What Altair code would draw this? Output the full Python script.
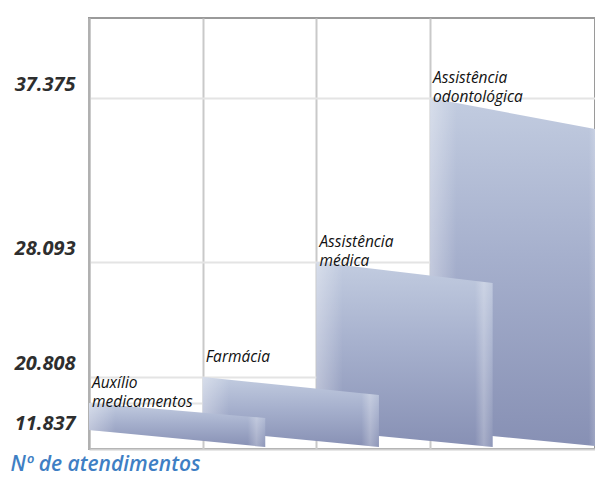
import altair as alt
import pandas as pd

# ---- data ----
categories = ["Auxílio\nmedicamentos", "Farmácia", "Assistência\nmédica", "Assistência\nodontológica"]
values = [11837, 20808, 28093, 37375]      # front (left) top of each slab
top_end = [7980, 14600, 26760, 35500]      # far (right) top of each slab, read against the axis
base_start = [4890, 4890, 4890, 4890]      # slab bottom at left
base_end = [510, 510, 510, 510]            # slab bottom at right
tick_values = [11837, 20808, 28093, 37375]
column_ticks = [0, 1, 2, 3]
axis_title = "Nº de atendimentos"
y_top = 41900

SPAN = 1.55
W, H = 506, 431

rows = []
for i, c in enumerate(categories):
    rows.append(dict(idx=i, cat=c, x=i, top=values[i], bottom=base_start[i]))
    rows.append(dict(idx=i, cat=c, x=i + SPAN, top=top_end[i], bottom=base_end[i]))
df = pd.DataFrame(rows)
lab = pd.DataFrame(dict(idx=list(range(4)), cat=categories, value=values))

xs = alt.Scale(domain=[0, 4.45], nice=False, zero=False)
ys = alt.Scale(domain=[0, 11837, 20808, 28093, 37375, y_top],
               range=[431, 385, 359, 244, 80, 0], nice=False, zero=False)

x_axis = alt.Axis(values=column_ticks, grid=True, gridColor="#c9c9c9", gridWidth=2,
                  labels=False, ticks=False, domain=True, domainColor="#cfcfcf", domainWidth=2,
                  title=axis_title, titleFont="Open Sans", titleFontSize=21, titleFontStyle="italic",
                  titleFontWeight=600, titleColor="#3f7fc4", titleAlign="left",
                  titleBaseline="alphabetic", titleX=-79, titleY=21, titleAnchor="start")
y_axis = alt.Axis(values=tick_values, grid=True, gridColor="#e4e4e4", gridWidth=2,
                  ticks=False, domain=True, domainColor="#b0b0b0", domainWidth=2,
                  labelExpr="replace(format(datum.value, ','), ',', '.')",
                  labelFont="Open Sans", labelFontSize=20, labelFontStyle="italic",
                  labelFontWeight="bold", labelColor="#2e2e2e", labelPadding=14,
                  labelBaseline="middle",
                  labelOffset={"condition": {"test": "datum.value < 15000", "value": 20}, "value": -14},
                  title="")

base_grad = alt.Gradient(gradient="linear", x1=0, y1=0, x2=0, y2=1,
                         stops=[alt.GradientStop(color="#c2cce0", offset=0),
                                alt.GradientStop(color="#a6b0cd", offset=0.45),
                                alt.GradientStop(color="#8790b4", offset=1)])
shine = alt.Gradient(gradient="linear", x1=0, y1=0, x2=1, y2=0,
                     stops=[alt.GradientStop(color="rgba(255,255,255,0.35)", offset=0),
                            alt.GradientStop(color="rgba(255,255,255,0.12)", offset=0.1),
                            alt.GradientStop(color="rgba(255,255,255,0)", offset=0.15),
                            alt.GradientStop(color="rgba(255,255,255,0)", offset=0.9),
                            alt.GradientStop(color="rgba(255,255,255,0.25)", offset=0.95),
                            alt.GradientStop(color="rgba(255,255,255,0.05)", offset=1)])


def X(field):
    return alt.X(field, scale=xs, axis=x_axis)


def Y(field):
    return alt.Y(field, scale=ys, axis=y_axis)


layers = []
for i in reversed(range(4)):
    src = alt.Chart(df).transform_filter(alt.datum.idx == i)
    layers.append(src.mark_area(color=base_grad, orient="vertical", clip=True)
                  .encode(x=X("x:Q"), y=Y("top:Q"), y2="bottom:Q"))
    layers.append(src.mark_area(color=shine, orient="vertical", clip=True)
                  .encode(x=X("x:Q"), y=Y("top:Q"), y2="bottom:Q"))

text = alt.Chart(lab).mark_text(align="left", baseline="bottom", dx=3, dy=-12,
                                lineBreak="\n", lineHeight=19, font="Open Sans",
                                fontSize=15.5, fontStyle="italic", color="#111111").encode(
    x=X("idx:Q"), y=Y("value:Q"), text="cat:N")

chart = alt.layer(*layers, text).properties(
    width=W, height=H,
    autosize=alt.AutoSizeParams(type="none"),
    padding={"left": 81, "top": 10, "right": 0, "bottom": 26},
).configure_view(stroke="#9a9a9a", strokeWidth=2)

chart.save("out.html", embed_options={"renderer": "svg", "actions": False})
